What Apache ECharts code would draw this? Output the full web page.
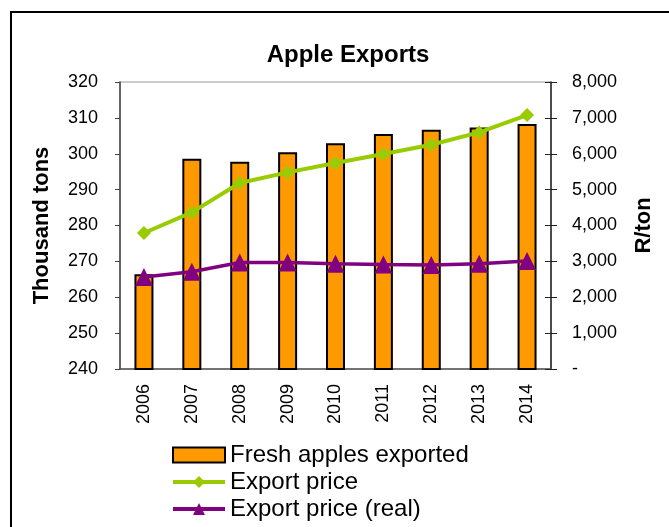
<!DOCTYPE html>
<html>
<head>
<meta charset="utf-8">
<script src="https://cdn.jsdelivr.net/npm/echarts@6/dist/echarts.min.js"></script>
<style>
  html, body { margin: 0; padding: 0; background: #fff; }
  #main { width: 669px; height: 527px; }
</style>
</head>
<body>
<div id="main"></div>
<script>
// data
var years = ['2006', '2007', '2008', '2009', '2010', '2011', '2012', '2013', '2014'];
var exported = [266.4, 298.6, 297.8, 300.4, 302.9, 305.5, 306.7, 307.3, 308.3];   // thousand tons
var price = [3790, 4365, 5185, 5480, 5740, 5995, 6250, 6595, 7080];               // R/ton
var priceReal = [2565, 2710, 2970, 2970, 2935, 2915, 2900, 2935, 3010];           // R/ton

var FONT = '"Liberation Sans", Arial, sans-serif';

var myChart = echarts.init(document.getElementById('main'));

var option = {
    backgroundColor: '#fff',
    animation: false,
    textStyle: { fontFamily: FONT, color: '#000' },
    graphic: [{
        type: 'rect',                         // outer chart border
        shape: { x: 11, y: 12, width: 700, height: 600 },
        style: { fill: 'none', stroke: '#000', lineWidth: 2 },
        silent: true
    }],
    title: {
        text: 'Apple Exports',
        left: 343,
        top: 38,
        textAlign: 'center',
        textStyle: { fontFamily: FONT, fontSize: 24, fontWeight: 'bold', color: '#000' }
    },
    legend: {
        orient: 'vertical',
        left: 171,
        top: 443,
        padding: 0,
        itemWidth: 52,
        itemHeight: 15,
        itemGap: 3,
        textStyle: { fontFamily: FONT, fontSize: 24, color: '#000' },
        data: [
            { name: 'Fresh apples exported', icon: 'rect' },
            { name: 'Export price', lineStyle: { width: 4 } },
            { name: 'Export price (real)', lineStyle: { width: 4 } }
        ]
    },
    grid: {
        left: 120, right: 118, top: 82, bottom: 158,
        show: true, borderColor: '#999', borderWidth: 1
    },
    xAxis: {
        type: 'category',
        data: years,
        axisLine: { lineStyle: { color: '#555', width: 1.5 } },
        axisTick: { length: 5, lineStyle: { color: '#555' } },
        axisLabel: { rotate: 90, margin: 15, fontFamily: FONT, fontSize: 18, color: '#000' }
    },
    yAxis: [{
        type: 'value',
        min: 240, max: 320, interval: 10,
        name: 'Thousand tons',
        nameLocation: 'middle',
        nameGap: 67,
        nameTextStyle: { fontFamily: FONT, fontSize: 22, fontWeight: 'bold', color: '#000' },
        splitLine: { show: false },
        axisLine: { show: true, lineStyle: { color: '#444', width: 1.5 } },
        axisTick: { show: true, length: 5, lineStyle: { color: '#444' } },
        axisLabel: { margin: 22, fontFamily: FONT, fontSize: 18, color: '#000' }
    }, {
        type: 'value',
        position: 'right',
        min: 0, max: 8000, interval: 1000,
        name: 'R/ton',
        nameLocation: 'middle',
        nameGap: 82,
        nameTextStyle: { fontFamily: FONT, fontSize: 22, fontWeight: 'bold', color: '#000' },
        splitLine: { show: false },
        axisLine: { show: true, lineStyle: { color: '#222', width: 1.5 } },
        axisTick: { show: true, length: 6, lineStyle: { color: '#222' } },
        axisLabel: {
            margin: 21, fontFamily: FONT, fontSize: 18, color: '#000',
            formatter: function (v) {
                if (v === 0) return '-';
                return v.toString().replace(/\B(?=(\d{3})+(?!\d))/g, ',');
            }
        }
    }, {
        // same scale, only for the inner half of the crossing ticks
        type: 'value',
        position: 'right',
        min: 0, max: 8000, interval: 1000,
        splitLine: { show: false },
        axisLine: { show: false },
        axisTick: { show: true, inside: true, length: 6, lineStyle: { color: '#222' } },
        axisLabel: { show: false }
    }],
    series: [{
        name: 'Fresh apples exported',
        type: 'bar',
        yAxisIndex: 0,
        barWidth: 19,
        itemStyle: { color: '#FF9900', borderColor: '#000', borderWidth: 2 },
        data: exported
    }, {
        name: 'Export price',
        type: 'line',
        yAxisIndex: 1,
        symbol: 'diamond',
        symbolSize: 14,
        lineStyle: { color: '#99CC00', width: 4 },
        itemStyle: { color: '#99CC00' },
        data: price
    }, {
        name: 'Export price (real)',
        type: 'line',
        yAxisIndex: 1,
        symbol: 'triangle',
        symbolSize: 18,
        lineStyle: { color: '#800080', width: 3.5 },
        itemStyle: { color: '#800080' },
        data: priceReal
    }]
};

myChart.setOption(option);
</script>
</body>
</html>
